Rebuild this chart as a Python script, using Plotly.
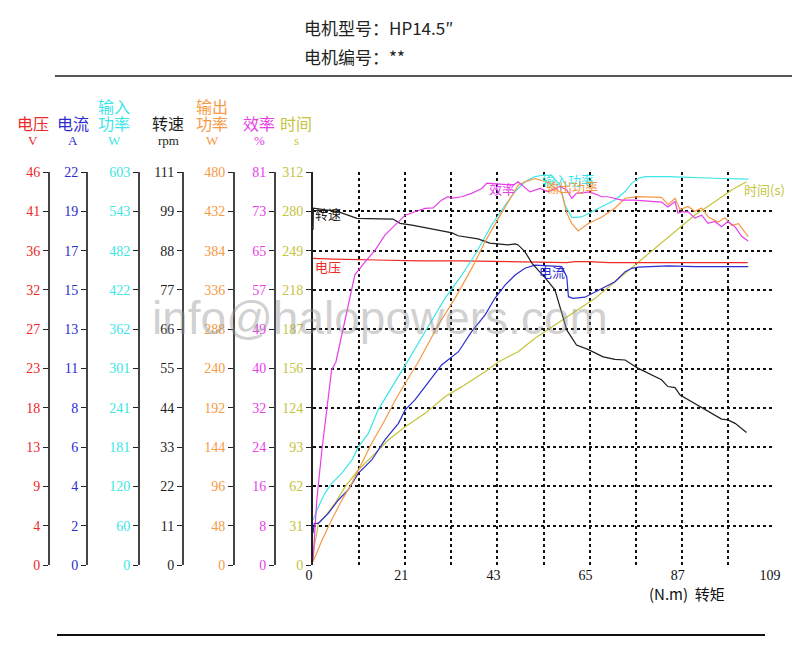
import plotly.graph_objects as go

# ---- data ----
# x: 转矩 (N.m)
torque_ticks = ["0", "", "21", "", "43", "", "65", "", "87", "", "109"]

volt_t = [0, 5, 15, 25, 35, 45, 55, 60, 62, 65, 70, 80, 90, 102.8]
volt_v = [35.9, 35.8, 35.7, 35.6, 35.6, 35.5, 35.4, 35.4, 35.5, 35.5, 35.4, 35.4, 35.4, 35.4]

curr_t = [0, 0.3, 1.25, 3.6, 6.0, 8.3, 10.7, 13.9, 17.0, 20.2, 21.8, 24.1, 26.5, 30.4, 34.4,
          37.5, 40.7, 43.0, 45.4, 47.8, 50.1, 52.5, 58.8, 60.0, 60.4, 61.5, 64.3, 66.7, 69.0,
          71.4, 73.8, 75.4, 76.9, 84.0, 90.3, 102.9]
curr_a = [1.78, 2.33, 2.33, 2.89, 3.64, 4.2, 5.13, 5.88, 7.0, 7.93, 8.68, 9.24, 9.98, 11.2, 11.94,
          13.06, 14.0, 14.93, 15.67, 16.23, 16.61, 16.79, 16.7, 16.14, 15.02, 14.93, 14.99, 15.3, 15.58,
          15.86, 16.42, 16.61, 16.67, 16.74, 16.7, 16.7]

pin_t = [0, 1.25, 2.8, 4.4, 6.8, 9.2, 10.7, 13.1, 15.4, 17.8, 20.2, 22.5, 26.5, 31.2, 35.2, 38.3,
         42.3, 45.4, 47.8, 50.1, 52.5, 54.4, 56.4, 58.4, 59.6, 61.2, 63.5, 65.9, 68.3, 71.4, 73.8,
         75.4, 76.9, 78.5, 84.0, 90.3, 96.6, 102.9]
pin_w = [69, 89, 110, 125, 141, 161, 181, 202, 238, 263, 289, 314, 358, 409, 445, 476,
         522, 552, 573, 588, 596, 598, 598, 583, 552, 533, 534, 542, 550, 560, 573,
         586, 593, 596, 596, 594, 593, 592]

speed_t = [0, 0.1, 5.9, 10.4, 18.9, 20.6, 23.4, 29.6, 32.9, 34.3, 39.0, 41.8, 46.1, 47.8, 48.5,
           50.1, 51.8, 54.9, 57.2, 60.0, 62.3, 65.0, 68.6, 71.4, 73.8, 76.8, 82.4, 83.9, 85.6,
           86.8, 89.5, 91.0, 93.4, 96.6, 98.1, 99.8, 102.5]
speed_rpm = [94.6, 100.8, 99.8, 97.9, 97.7, 96.5, 96.0, 94.6, 93.8, 93.0, 92.1, 90.9, 90.4, 90.7, 90.4,
             88.5, 85.2, 81.1, 77.7, 66.4, 62.1, 60.9, 58.8, 58.1, 57.9, 55.6, 52.3, 50.4, 50.1,
             48.0, 46.1, 45.2, 43.3, 41.2, 41.0, 40.0, 37.4]

pout_t = [0, 2.1, 4.4, 6.8, 9.2, 11.5, 13.9, 17.0, 19.4, 21.8, 24.9, 29.6, 33.6, 37.5, 40.7, 43.8,
          47.0, 48.5, 50.1, 52.5, 55.3, 58.8, 60.0, 61.2, 62.7, 65.1, 68.3, 71.4, 73.8, 76.9, 82.4,
          84.0, 85.6, 86.8, 88.7, 90.3, 91.9, 93.5, 95.8, 97.4, 99.0, 100.6, 102.9]
pout_w = [4, 30, 55, 79, 100, 124, 149, 177, 201, 222, 248, 293, 326, 362, 395, 423,
          452, 464, 468, 472, 468, 454, 430, 417, 408, 417, 425, 436, 448, 450, 449,
          440, 448, 434, 438, 432, 436, 425, 419, 424, 415, 417, 401]

eff_t = [0, 0.9, 2.1, 3.2, 4.4, 5.4, 7.6, 9.9, 12.3, 14.7, 17.0, 19.4, 21.8, 24.1, 26.5, 28.4,
         30.4, 31.9, 32.8, 35.2, 37.5, 39.9, 41.1, 47.4, 48.5, 51.3, 53.7, 55.6, 58.4, 60.0,
         61.2, 62.3, 65.5, 68.3, 69.7, 73.0, 76.1, 79.2, 82.4, 83.9, 85.6, 86.3, 87.2, 88.7,
         90.3, 91.9, 93.4, 95.0, 96.6, 98.1, 99.8, 101.4, 102.9]
eff_pct = [1.0, 13.4, 23.7, 31.9, 40.2, 41.8, 50.8, 59.8, 62.5, 64.9, 68.0, 70.1, 72.1, 72.8, 73.5, 73.6,
           75.2, 75.9, 75.6, 75.9, 76.6, 77.6, 78.7, 78.3, 79.0, 76.9, 77.6, 76.9, 78.0, 77.3,
           75.6, 76.6, 76.9, 75.9, 75.9, 75.2, 75.2, 75.0, 74.8, 73.8, 74.9, 72.5, 72.8, 72.8,
           71.5, 72.1, 70.4, 70.8, 69.7, 70.8, 69.7, 67.7, 66.8]

time_t = [0, 0.3, 0.9, 1.25, 2.8, 5.2, 7.6, 10.7, 13.9, 17.8, 21.8, 26.5, 31.2, 35.2, 40.7, 43.8,
          48.5, 52.5, 57.2, 61.9, 66.7, 71.4, 76.1, 80.9, 85.6, 90.3, 95.0, 99.0, 102.5]
time_s = [4.0, 14.5, 25.2, 33.1, 38.3, 49.0, 62.2, 75.4, 86.0, 99.2, 109.8, 120.4, 133.6, 141.6, 153.5, 161.2,
          169.3, 180.0, 190.5, 201.1, 211.7, 224.9, 238.2, 251.5, 264.6, 277.9, 288.4, 297.7, 304.3]

# tick labels of the stacked left axes
volt_ticks = ["0", "4", "9", "13", "18", "23", "27", "32", "36", "41", "46"]
curr_ticks = ["0", "2", "4", "6", "8", "11", "13", "15", "17", "19", "22"]
pin_ticks = ["0", "60", "120", "181", "241", "301", "362", "422", "482", "543", "603"]
speed_ticks = ["0", "11", "22", "33", "44", "55", "66", "77", "88", "99", "111"]
pout_ticks = ["0", "48", "96", "144", "192", "240", "288", "336", "384", "432", "480"]
eff_ticks = ["0", "8", "16", "24", "32", "40", "49", "57", "65", "73", "81"]
time_ticks = ["0", "31", "62", "93", "124", "156", "187", "218", "249", "280", "312"]

# ---- layout helpers (screen coords; page body adds 8px offset) ----
OFF = 8
W, H = 800 - OFF, 665 - OFF
PLOT_L, PLOT_R, PLOT_T, PLOT_B = 313, 774, 172, 565
ML = 0
MR = W - (PLOT_R - OFF)
MT = PLOT_T - OFF
MB = H - (PLOT_B - OFF)
PW = W - ML - MR
PH = H - MT - MB


def px(x):
    return (x - OFF - ML) / PW


def py(y):
    return (PLOT_B - y) / PH


NUM_FONT = "Liberation Serif"
CJK_FONT = "Noto Sans CJK SC"

RED = "#f02828"
BLUE = "#2c2cd0"
CYAN = "#3ce6e6"
BLACK = "#1e1e1e"
ORANGE = "#f59a45"
MAGENTA = "#e83ee8"
OLIVE = "#c4c43a"

fig = go.Figure()

series = [
    (volt_t, volt_v, RED, "y2", "电压"),
    (curr_t, curr_a, BLUE, "y3", "电流"),
    (pin_t, pin_w, CYAN, "y4", "输入功率"),
    (speed_t, speed_rpm, BLACK, "y5", "转速"),
    (pout_t, pout_w, ORANGE, "y6", "输出功率"),
    (eff_t, eff_pct, MAGENTA, "y7", "效率"),
    (time_t, time_s, OLIVE, "y", "时间"),
]
for xs, ys, col, ax, nm in series:
    fig.add_trace(go.Scatter(x=xs, y=ys, mode="lines", name=nm, yaxis=ax,
                             line=dict(color=col, width=1.2), hoverinfo="skip"))


def side_axis(maxv, labels, col, xpos, grid=False):
    d = dict(
        range=[0, maxv],
        tickvals=[maxv * k / 10 for k in range(11)],
        ticktext=labels,
        tickfont=dict(family=NUM_FONT, size=14, color=col),
        ticks="outside", ticklen=5, tickwidth=1, tickcolor="#222",
        showline=True, linecolor="#444", linewidth=2,
        zeroline=False, fixedrange=True, automargin=False,
    )
    if grid:
        d.update(showgrid=True, gridcolor="#111", gridwidth=1.5, griddash="3px,3px",
                 anchor="x", linecolor="#222")
    else:
        d.update(showgrid=False, anchor="free", overlaying="y", position=px(xpos))
    return d


fig.update_layout(
    width=W, height=H,
    margin=dict(l=ML, r=MR, t=MT, b=MB, autoexpand=False),
    paper_bgcolor="white", plot_bgcolor="white",
    showlegend=False,
    xaxis=dict(
        domain=[px(PLOT_L), 1], range=[0, 109],
        tickvals=[10.9 * k for k in range(11)], ticktext=torque_ticks,
        tickfont=dict(family=NUM_FONT, size=14, color="#111"),
        showgrid=True, gridcolor="#111", gridwidth=1.5, griddash="3px,3px",
        showline=False, zeroline=False, ticks="", ticklabelshift=-4,
        fixedrange=True, automargin=False,
    ),
    yaxis=side_axis(312, time_ticks, OLIVE, PLOT_L, grid=True),
    yaxis2=side_axis(46, volt_ticks, RED, 49),
    yaxis3=side_axis(22, curr_ticks, BLUE, 87),
    yaxis4=side_axis(603, pin_ticks, CYAN, 139),
    yaxis5=side_axis(111, speed_ticks, BLACK, 183),
    yaxis6=side_axis(480, pout_ticks, ORANGE, 234),
    yaxis7=side_axis(81, eff_ticks, MAGENTA, 275),
)

ann = []


def text(x, y, s, col, size=15, font=CJK_FONT, xanchor="center"):
    ann.append(dict(x=px(x), y=py(y), xref="paper", yref="paper", text=s, showarrow=False,
                    xanchor=xanchor, yanchor="middle",
                    font=dict(family=font, size=size, color=col)))


# header
text(302, 27, "电机型号：HP14.5″", "#222", size=17, xanchor="left")
text(302, 56, "电机编号：**", "#222", size=17, xanchor="left")

# axis titles
heads = [
    (33, ["电压"], "V", RED),
    (73, ["电流"], "A", BLUE),
    (114, ["输入", "功率"], "W", CYAN),
    (168, ["转速"], "rpm", BLACK),
    (212, ["输出", "功率"], "W", ORANGE),
    (259, ["效率"], "%", MAGENTA),
    (296, ["时间"], "s", OLIVE),
]
for x, lines, unit, col in heads:
    if len(lines) == 2:
        text(x, 106, lines[0], col, size=16)
        text(x, 123, lines[1], col, size=16)
    else:
        text(x, 123, lines[0], col, size=16)
    text(x, 141, unit, col, size=13, font=NUM_FONT)

# curve labels
text(313, 213, "转速", BLACK, size=13, xanchor="left")
text(313, 266, "电压", RED, size=13, xanchor="left")
text(487, 188, "效率", MAGENTA, size=13, xanchor="left")
text(540, 180, "输入功率", CYAN, size=13, xanchor="left")
text(544, 186, "输出功率", ORANGE, size=13, xanchor="left")
text(537, 271, "电流", BLUE, size=13, xanchor="left")
text(742, 189, "时间(s)", OLIVE, size=13, xanchor="left")

# x axis title
text(727, 593, "(N.m)  转矩", "#111", size=15, xanchor="right")

# watermark
ann.append(dict(x=px(380), y=py(290), xref="paper", yref="paper", text="info@halopowers.com",
                showarrow=False,
                font=dict(family="Liberation Sans", size=46, color="rgba(150,150,150,0.45)")))

fig.update_layout(annotations=ann)

fig.update_layout(shapes=[
    dict(type="line", xref="paper", yref="paper", x0=px(55), x1=px(800), y0=py(76), y1=py(76),
         line=dict(color="#555", width=2)),
    dict(type="line", xref="paper", yref="paper", x0=px(57), x1=px(765), y0=py(635), y1=py(635),
         line=dict(color="#111", width=2)),
])

fig.write_html("out.html")
